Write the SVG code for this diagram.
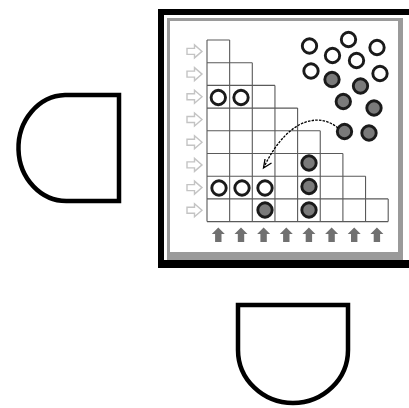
<svg xmlns="http://www.w3.org/2000/svg" width="409" height="408" viewBox="0 0 409 408">
<style>
.shape{fill:#fff;stroke:#000;stroke-width:4.5;stroke-linejoin:miter}
.grid{fill:none;stroke:#5a5a5a;stroke-width:1.1}
.wc{fill:#fff;stroke:#1a1a1a;stroke-width:2.9}
.gc{fill:#7a7a7a;stroke:#1a1a1a;stroke-width:2.9}
.la{fill:#fff;stroke:#c4c4c4;stroke-width:1.4}
.ua{fill:#707070}
.conn{fill:none;stroke:#000;stroke-width:1.3}
</style>
<defs>
<path id="larr" d="M-7.5,-3 H0 V-6.5 L7.5,0 L0,6.5 V3 H-7.5 Z"/>
<path id="uarr" d="M0,-7.5 L6.5,-1 H3.2 V7 H-3.2 V-1 H-6.5 Z"/>
</defs>
<rect width="409" height="408" fill="#fff"/>
<g id="left-shape">
<path class="shape" d="M65,95 H119 V201 H68 A48 53 0 0 1 65,95 Z"/>
</g>
<g id="bottom-shape">
<path class="shape" d="M238,305 H348 V350 A55 53 0 0 1 238,350 Z"/>
</g>
<g id="frame">
<rect x="158" y="9" width="251" height="259" fill="#000"/>
<rect x="164" y="15" width="245" height="245" fill="#fff"/>
<rect x="167" y="18" width="236" height="242" fill="#9a9a9a"/>
<rect x="170" y="21" width="228" height="231" fill="#fff"/>
</g>
<g id="grid">
<path class="grid" d="M207,40 H229.65 M207,62.7 H252.3 M207,85.4 H274.95 M207,108.1 H297.6 M207,130.8 H320.25 M207,153.5 H342.9 M207,176.2 H365.55 M207,198.9 H388.2 M207,221.6 H388.2 M207,40 V221.6 M229.65,40 V221.6 M252.3,62.7 V221.6 M274.95,85.4 V221.6 M297.6,108.1 V221.6 M320.25,130.8 V221.6 M342.9,153.5 V221.6 M365.55,176.2 V221.6 M388.2,198.9 V221.6"/>
</g>
<g id="left-arrows" class="la">
<use href="#larr" x="194.5" y="51.4"/>
<use href="#larr" x="194.5" y="74.1"/>
<use href="#larr" x="194.5" y="96.8"/>
<use href="#larr" x="194.5" y="119.5"/>
<use href="#larr" x="194.5" y="142.2"/>
<use href="#larr" x="194.5" y="164.9"/>
<use href="#larr" x="194.5" y="187.6"/>
<use href="#larr" x="194.5" y="210.3"/>
</g>
<g id="up-arrows" class="ua">
<use href="#uarr" x="218.3" y="235"/>
<use href="#uarr" x="241" y="235"/>
<use href="#uarr" x="263.6" y="235"/>
<use href="#uarr" x="286.3" y="235"/>
<use href="#uarr" x="308.9" y="235"/>
<use href="#uarr" x="331.6" y="235"/>
<use href="#uarr" x="354.2" y="235"/>
<use href="#uarr" x="376.9" y="235"/>
</g>
<g id="grid-pieces">
<circle class="wc" cx="218.3" cy="97.5" r="7.2"/>
<circle class="wc" cx="241" cy="97.5" r="7.2"/>
<circle class="wc" cx="219" cy="188" r="7.2"/>
<circle class="wc" cx="242" cy="188" r="7.2"/>
<circle class="wc" cx="265" cy="188" r="7.2"/>
<circle class="gc" cx="265" cy="210" r="7.2"/>
<circle class="gc" cx="309" cy="163" r="7.2"/>
<circle class="gc" cx="309" cy="186.5" r="7.2"/>
<circle class="gc" cx="309" cy="210" r="7.2"/>
</g>
<g id="pool">
<circle class="wc" cx="309.5" cy="46" r="7.2"/>
<circle class="wc" cx="332.5" cy="55.5" r="7.2"/>
<circle class="wc" cx="348.5" cy="39.5" r="7.2"/>
<circle class="wc" cx="356.5" cy="60.5" r="7.2"/>
<circle class="wc" cx="377" cy="47.5" r="7.2"/>
<circle class="wc" cx="311" cy="71" r="7.2"/>
<circle class="wc" cx="380" cy="73.5" r="7.2"/>
<circle class="gc" cx="332" cy="79.5" r="7.2"/>
<circle class="gc" cx="360.5" cy="86" r="7.2"/>
<circle class="gc" cx="343.3" cy="101.5" r="7.2"/>
<circle class="gc" cx="374" cy="108" r="7.2"/>
<circle class="gc" cx="344.5" cy="131.5" r="7.2"/>
<circle class="gc" cx="369" cy="133" r="7.2"/>
</g>
<g id="connectors">
<path class="conn" stroke-dasharray="2.5,1.2" d="M338,128 C322,114 290,114 264,167"/>
<path class="conn" d="M265,159 L263.5,168 L271.5,163"/>
</g>
</svg>
